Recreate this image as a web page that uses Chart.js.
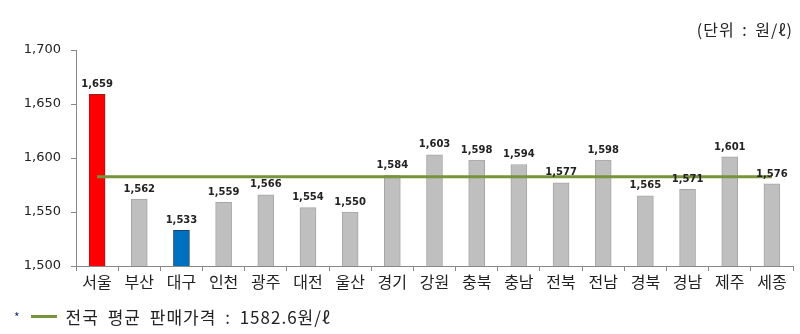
<!DOCTYPE html>
<html>
<head>
<meta charset="utf-8">
<script src="https://cdn.jsdelivr.net/npm/chart.js@4/dist/chart.umd.min.js"></script>
<style>
  html, body { margin: 0; padding: 0; background: #fff; }
  #wrap { position: relative; width: 800px; height: 334px; }
  #unit { position: absolute; right: 7px; top: 17px; font: 16px "Noto Sans CJK KR", sans-serif; color: #222; letter-spacing: 1px; word-spacing: 3px; }
  #note { position: absolute; left: 14px; top: 304px; font: 17px "Noto Sans CJK KR", sans-serif; color: #222; display: flex; align-items: center; letter-spacing: 1px; word-spacing: 4px; }
  #note .star { color: #1f2f7a; font-size: 12px; margin-right: 10px; }
  #note .ln { display: inline-block; width: 26px; height: 3px; background: #77933c; margin-right: 9px; }
</style>
</head>
<body>
<div id="wrap">
  <canvas id="myChart" width="800" height="334"></canvas>
  <div id="unit">(단위 : 원/ℓ)</div>
  <div id="note"><span class="star">*</span><span class="ln"></span>전국 평균 판매가격 : 1582.6원/ℓ</div>
</div>
<script>
const regions = ['서울','부산','대구','인천','광주','대전','울산','경기','강원','충북','충남','전북','전남','경북','경남','제주','세종'];
const prices = [1659,1562,1533,1559,1566,1554,1550,1584,1603,1598,1594,1577,1598,1565,1571,1601,1576];
const nationalAvg = 1582.6;
const yTicks = [1500, 1550, 1600, 1650, 1700];

const barColors = regions.map(r => r === '서울' ? '#ff0000' : (r === '대구' ? '#0070c0' : '#bfbfbf'));
const barBorders = regions.map(r => r === '서울' ? '#9c1b1b' : (r === '대구' ? '#1f3f6f' : '#a6a6a6'));

// value labels above the bars
const valueLabels = {
  id: 'valueLabels',
  afterDatasetsDraw(chart) {
    const ctx = chart.ctx;
    const meta = chart.getDatasetMeta(1);
    ctx.save();
    ctx.font = 'bold 10px "DejaVu Sans", sans-serif';
    ctx.fillStyle = '#222';
    ctx.textAlign = 'center';
    ctx.textBaseline = 'bottom';
    meta.data.forEach((bar, i) => {
      ctx.fillText(prices[i].toLocaleString('en-US'), bar.x, bar.y - 5);
    });
    ctx.restore();
  }
};

const ctx = document.getElementById('myChart').getContext('2d');
new Chart(ctx, {
  data: {
    labels: regions,
    datasets: [{
      type: 'line',
      data: regions.map(() => nationalAvg),
      borderColor: '#77933c',
      borderWidth: 3,
      pointRadius: 0,
      order: 0
    }, {
      type: 'bar',
      data: prices,
      backgroundColor: barColors,
      borderColor: barBorders,
      borderWidth: 1,
      barThickness: 16,
      order: 1
    }]
  },
  options: {
    responsive: false,
    animation: false,
    layout: { padding: { top: 50, right: 7, left: 0, bottom: 0 } },
    plugins: { legend: { display: false }, tooltip: { enabled: false } },
    scales: {
      x: {
        offset: true,
        grid: { display: true, drawOnChartArea: false, offset: true, tickLength: 5, color: '#888' },
        border: { color: '#888' },
        ticks: { color: '#222', font: { family: '"Noto Sans CJK KR", sans-serif', size: 16 }, padding: 1 },
        afterFit(scale) { scale.height = 68; }
      },
      y: {
        min: 1500, max: 1700,
        afterBuildTicks(scale) { scale.ticks = yTicks.map(v => ({ value: v })); },
        grid: { display: true, drawOnChartArea: false, tickLength: 5, color: '#888' },
        border: { color: '#888' },
        ticks: {
          color: '#222',
          font: { family: '"DejaVu Sans", sans-serif', size: 13 },
          padding: 10,
          callback: v => v.toLocaleString('en-US')
        },
        afterFit(scale) { scale.width = 76; }
      }
    }
  },
  plugins: [valueLabels]
});
</script>
</body>
</html>
